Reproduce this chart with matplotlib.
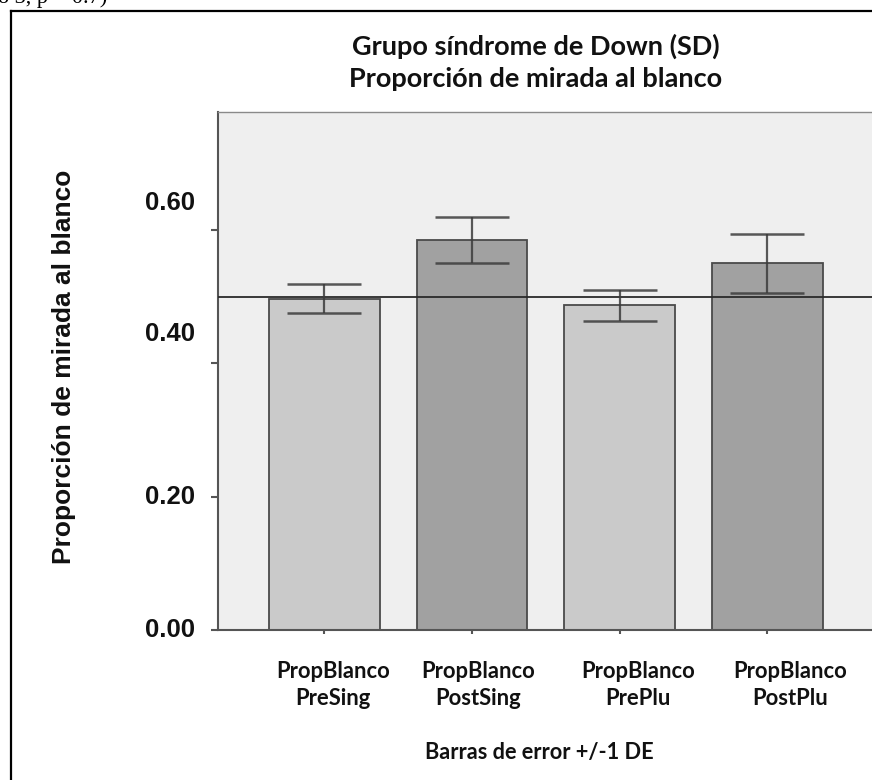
"""
Grupo SD: proporción de mirada al blanco (barras +/- 1 DE)
"""
import numpy as np
import matplotlib
matplotlib.use('Agg')
import matplotlib.pyplot as plt
from matplotlib.lines import Line2D

# datos
categorias = ['PropBlanco\nPreSing', 'PropBlanco\nPostSing', 'PropBlanco\nPrePlu', 'PropBlanco\nPostPlu']
medias = [0.497, 0.585, 0.487, 0.550]
de = [0.022, 0.035, 0.023, 0.044]
linea_ref = 0.50
yticks = [0.0, 0.2, 0.4, 0.6]
ytick_labels = ['0.00', '0.20', '0.40', '0.60']
titulo = 'Grupo síndrome de Down (SD)\nProporción de mirada al blanco'
ylabel = 'Proporción de mirada al blanco'
xlabel = 'Barras de error +/-1 DE'
texto_cortado = 'o 3, p = 0.7)'

W, H = 872, 780
fig = plt.figure(figsize=(W / 100, H / 100), dpi=100)
fig.patch.set_facecolor('white')

# ejes en píxeles -> fracción
ax = fig.add_axes([217.5 / W, (H - 630) / H, 660 / W, (630 - 112) / H])
ax.set_facecolor('#efefef')

x = np.arange(len(categorias))
colores = ['#cacaca', '#a1a1a1', '#cacaca', '#a1a1a1']
ax.bar(x, medias, width=0.75, color=colores, edgecolor='#4a4a4a', linewidth=1.3, zorder=2)
ax.errorbar(x, medias, yerr=de, fmt='none', ecolor='#3c3c3c', elinewidth=1.6,
            capsize=26.5, capthick=1.8, alpha=0.85, zorder=4)
ax.axhline(linea_ref, color='#2a2a2a', linewidth=1.3, zorder=3)

ax.set_xlim(-0.723, 3.745)
ax.set_ylim(0, 0.777)

# spines
for s in ['top', 'right']:
    ax.spines[s].set_color('#8a8a8a')
    ax.spines[s].set_linewidth(1.0)
ax.spines['left'].set_color('#555555')
ax.spines['left'].set_linewidth(1.5)
ax.spines['bottom'].set_color('#555555')
ax.spines['bottom'].set_linewidth(1.5)

ax.set_yticks(yticks)
ax.set_yticklabels([])
ax.tick_params(axis='y', length=5, width=1.5, color='#555555', direction='out')
ax.set_xticks(x)
ax.set_xticklabels([])
ax.tick_params(axis='x', length=3, width=1.5, color='#555555', direction='out')

# etiquetas del eje y (desplazadas como en el original)
ydesp = [0, 0, 29, 27]
for v, lab, dy in zip(yticks, ytick_labels, ydesp):
    ax.annotate(lab, xy=(0, v), xycoords=('axes fraction', 'data'),
                xytext=(-23, dy), textcoords='offset pixels',
                ha='right', va='center', fontsize=18.5, fontweight='bold',
                family='Liberation Sans', color='#111111')

# etiquetas del eje x
xdesp = [9, 6, 18, 23]
for xi, lab, dx in zip(x, categorias, xdesp):
    ax.annotate(lab, xy=(xi, 0), xycoords=('data', 'axes fraction'),
                xytext=(dx, -55), textcoords='offset pixels',
                ha='center', va='center', fontsize=15.8, fontweight='bold',
                family='Lato', color='#111111', linespacing=1.35)

fig.text(539.5 / W, 1 - 753 / H, xlabel, ha='center', va='center',
         fontsize=15.7, fontweight='bold', family='Lato', color='#111111')
fig.text(64 / W, 1 - 367 / H, ylabel, ha='center', va='center', rotation=90,
         fontsize=19, fontweight='bold', family='Liberation Sans', color='#111111')
fig.text(536 / W, 1 - 62.5 / H, titulo, ha='center', va='center',
         fontsize=19.5, fontweight='bold', family='Lato', color='#111111',
         linespacing=1.38)

# texto del documento cortado arriba
fig.text(-2 / W, 1 - 3 / H, texto_cortado, ha='left', va='baseline',
         fontsize=16, family='Liberation Serif', color='black')

# marco de la figura
fig.add_artist(Line2D([10.5 / W, 10.5 / W], [0, 1 - 10.5 / H], color='black', linewidth=1.6))
fig.add_artist(Line2D([10.5 / W, 1], [1 - 10.5 / H, 1 - 10.5 / H], color='black', linewidth=1.6))

fig.savefig('out.png', dpi=100)
